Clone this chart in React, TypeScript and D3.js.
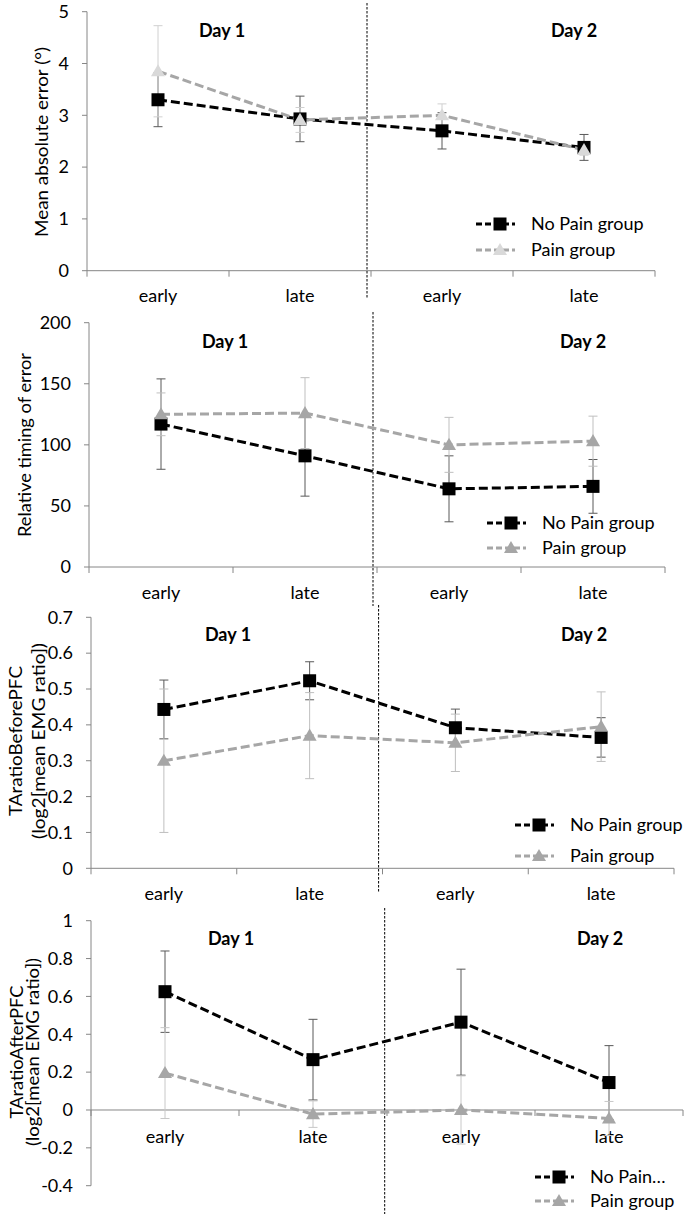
import React from "react";
import * as d3 from "d3";

// ---------- data ----------
const categories = ["early", "late", "early", "late"];
const dayLabels = ["Day 1", "Day 2"];
const seriesNames = ["No Pain group", "Pain group"];
const seriesNamesShort = ["No Pain…", "Pain group"];

// Panel 1: Mean absolute error (°)
const maeNoPain = [3.3, 2.93, 2.7, 2.38];
const maeNoPainErr = [0.52, 0.44, 0.35, 0.25];
const maePain = [3.85, 2.91, 3.0, 2.33];
const maePainErr = [0.88, 0.24, 0.22, 0.1];
const maeTicks = [0, 1, 2, 3, 4, 5];

// Panel 2: Relative timing of error
const timingNoPain = [117, 91, 64, 66];
const timingNoPainErr = [37, 33, 27, 22];
const timingPain = [125, 126, 100, 103];
const timingPainErr = [17.5, 29, 22.5, 20.5];
const timingTicks = [0, 50, 100, 150, 200];

// Panel 3: TAratioBeforePFC
const beforeNoPain = [0.443, 0.523, 0.392, 0.365];
const beforeNoPainErr = [0.082, 0.053, 0.052, 0.055];
const beforePain = [0.3, 0.37, 0.35, 0.395];
const beforePainErr = [0.2, 0.12, 0.08, 0.097];
const beforeTicks = [0, 0.1, 0.2, 0.3, 0.4, 0.5, 0.6, 0.7];

// Panel 4: TAratioAfterPFC
const afterNoPain = [0.625, 0.266, 0.464, 0.145];
const afterNoPainErr = [0.215, 0.213, 0.28, 0.195];
const afterPain = [0.195, -0.022, 0.0, -0.045];
const afterPainErr = [0.24, 0.07, 0.18, 0.09];
const afterTicks = [-0.4, -0.2, 0, 0.2, 0.4, 0.6, 0.8, 1];

// ---------- layout ----------
const FONT = "Lato, 'Liberation Sans', Arial, sans-serif";
const AXIS = "#868686";

type Panel = {
  titles: string[];
  titleLens: number[];
  titleX: number[];
  titleY: number;
  noPain: number[];
  noPainErr: number[];
  pain: number[];
  painErr: number[];
  ticks: number[];
  domain: [number, number];
  fmt: (v: number) => string;
  x0: number;
  x1: number;
  yTop: number;
  yBot: number;
  catY: number;
  divX: number;
  divY: [number, number];
  dayY: number;
  dayX: [number, number];
  legX: number;
  legY: [number, number];
  legNames: string[];
  painMarker: string;
  painErrColor: string;
};

const panels: Panel[] = [
  {
    titles: ["Mean absolute error (°)"],
    titleLens: [190],
    titleX: [48],
    titleY: 142,
    noPain: maeNoPain,
    noPainErr: maeNoPainErr,
    pain: maePain,
    painErr: maePainErr,
    ticks: maeTicks,
    domain: [0, 5],
    fmt: (v) => d3.format("d")(v),
    x0: 87,
    x1: 655,
    yTop: 11.7,
    yBot: 270.7,
    catY: 296,
    divX: 367,
    divY: [3, 298],
    dayY: 31,
    dayX: [222, 574],
    legX: 476,
    legY: [224, 250],
    legNames: seriesNames,
    painMarker: "#D9D9D9",
    painErrColor: "#D0D0D0",
  },
  {
    titles: ["Relative timing of error"],
    titleLens: [184],
    titleX: [31],
    titleY: 445,
    noPain: timingNoPain,
    noPainErr: timingNoPainErr,
    pain: timingPain,
    painErr: timingPainErr,
    ticks: timingTicks,
    domain: [0, 200],
    fmt: (v) => d3.format("d")(v),
    x0: 89,
    x1: 665,
    yTop: 322.7,
    yBot: 567,
    catY: 593,
    divX: 373,
    divY: [312, 606],
    dayY: 342,
    dayX: [225, 583],
    legX: 487,
    legY: [523, 548],
    legNames: seriesNames,
    painMarker: "#A6A6A6",
    painErrColor: "#BFBFBF",
  },
  {
    titles: ["TAratioBeforePFC", "(log2[mean EMG ratio])"],
    titleLens: [150, 196],
    titleX: [22, 45],
    titleY: 741,
    noPain: beforeNoPain,
    noPainErr: beforeNoPainErr,
    pain: beforePain,
    painErr: beforePainErr,
    ticks: beforeTicks,
    domain: [0, 0.7],
    fmt: (v) => (v === 0 ? "0" : d3.format(".1f")(v)),
    x0: 91,
    x1: 674,
    yTop: 617.3,
    yBot: 868.3,
    catY: 894,
    divX: 378.6,
    divY: [605, 893],
    dayY: 635,
    dayX: [228, 584],
    legX: 515,
    legY: [825, 856],
    legNames: seriesNames,
    painMarker: "#A6A6A6",
    painErrColor: "#BFBFBF",
  },
  {
    titles: ["TAratioAfterPFC", "(log2[mean EMG ratio])"],
    titleLens: [133, 188],
    titleX: [23, 39],
    titleY: 1052,
    noPain: afterNoPain,
    noPainErr: afterNoPainErr,
    pain: afterPain,
    painErr: afterPainErr,
    ticks: afterTicks,
    domain: [-0.4, 1],
    fmt: (v) =>
      Math.abs(v) < 1e-9 ? "0" : v === 1 ? "1" : d3.format(".1f")(v).replace("−", "-"),
    x0: 91,
    x1: 683,
    yTop: 920.7,
    yBot: 1185.7,
    catY: 1137,
    divX: 384.7,
    divY: [908, 1214],
    dayY: 939,
    dayX: [231, 600],
    legX: 535,
    legY: [1177, 1201],
    legNames: seriesNamesShort,
    painMarker: "#A6A6A6",
    painErrColor: "#C8C8C8",
  },
];

const triPath = d3.symbol(d3.symbolTriangle, 85)() as string;

function Marker({ kind, x, y, fill }: { kind: "sq" | "tri"; x: number; y: number; fill: string }) {
  if (kind === "sq") return <rect x={x - 6.5} y={y - 6.5} width={13} height={13} fill={fill} />;
  return <path d={triPath} transform={`translate(${x},${y + 1})`} fill={fill} />;
}

function ChartPanel({ p }: { p: Panel }) {
  const idx = categories.map((_, i) => i);
  const xb = d3.scaleBand<number>().domain(idx).range([p.x0, p.x1]);
  const xc = (i: number) => (xb(i) as number) + xb.bandwidth() / 2;
  const y = d3.scaleLinear().domain(p.domain).range([p.yBot, p.yTop]);
  const y0 = y(0);
  const line = d3
    .line<number>()
    .x((_, i) => xc(i))
    .y((d) => y(d));
  const boundaries = [...idx.map((i) => xb(i) as number), p.x1];

  const errBars = (vals: number[], errs: number[], color: string) =>
    vals.map((v, i) => {
      const x = xc(i);
      const hi = y(v + errs[i]);
      const lo = y(v - errs[i]);
      return (
        <g key={i} stroke={color} strokeWidth={1}>
          <line x1={x} x2={x} y1={hi} y2={lo} />
          <line x1={x - 4.5} x2={x + 4.5} y1={hi} y2={hi} />
          <line x1={x - 4.5} x2={x + 4.5} y1={lo} y2={lo} />
        </g>
      );
    });

  return (
    <g>
      {/* y axis */}
      <line x1={p.x0} x2={p.x0} y1={p.yTop} y2={p.yBot} stroke={AXIS} strokeWidth={1} />
      {p.ticks.map((t) => (
        <g key={t}>
          <line x1={p.x0 - 5} x2={p.x0} y1={y(t)} y2={y(t)} stroke={AXIS} />
          <text
            x={p.x0 - 18}
            y={y(t)}
            dy="0.35em"
            textAnchor="end"
            fontFamily={FONT}
            fontSize={18}
            fill="#000"
          >
            {p.fmt(t)}
          </text>
        </g>
      ))}
      {/* x axis at value 0 */}
      <line x1={p.x0} x2={p.x1} y1={y0} y2={y0} stroke={AXIS} strokeWidth={1} />
      {boundaries.map((bx, i) => (
        <line key={i} x1={bx} x2={bx} y1={y0} y2={y0 + 6} stroke={AXIS} />
      ))}
      {categories.map((c, i) => (
        <text
          key={i}
          x={xc(i)}
          y={p.catY}
          dy="0.35em"
          textAnchor="middle"
          fontFamily={FONT}
          fontSize={18}
        >
          {c}
        </text>
      ))}
      {/* axis title */}
      {p.titles.map((t, i) => (
        <text
          key={i}
          transform={`translate(${p.titleX[i]},${p.titleY}) rotate(-90)`}
          textAnchor="middle"
          fontFamily={FONT}
          fontSize={18}
          textLength={p.titleLens[i]}
          lengthAdjust="spacingAndGlyphs"
        >
          {t}
        </text>
      ))}
      {/* day divider */}
      <line
        x1={p.divX}
        x2={p.divX}
        y1={p.divY[0]}
        y2={p.divY[1]}
        stroke="#000"
        strokeWidth={1}
        strokeDasharray="2.5,1.5"
      />
      {dayLabels.map((d, i) => (
        <text
          key={d}
          x={p.dayX[i]}
          y={p.dayY}
          dy="0.35em"
          textAnchor="middle"
          fontFamily={FONT}
          fontWeight="bold"
          fontSize={18}
        >
          {d}
        </text>
      ))}
      {/* error bars */}
      {errBars(p.noPain, p.noPainErr, "#595959")}
      {errBars(p.pain, p.painErr, p.painErrColor)}
      {/* lines */}
      <path d={line(p.noPain) as string} fill="none" stroke="#000" strokeWidth={3} strokeDasharray="9,4" />
      <path d={line(p.pain) as string} fill="none" stroke="#A6A6A6" strokeWidth={3} strokeDasharray="9,4" />
      {/* markers */}
      {p.noPain.map((v, i) => (
        <Marker key={"n" + i} kind="sq" x={xc(i)} y={y(v)} fill="#000" />
      ))}
      {p.pain.map((v, i) => (
        <Marker key={"p" + i} kind="tri" x={xc(i)} y={y(v)} fill={p.painMarker} />
      ))}
      {/* legend */}
      {[0, 1].map((k) => (
        <g key={k}>
          <line
            x1={p.legX}
            x2={p.legX + 39}
            y1={p.legY[k]}
            y2={p.legY[k]}
            stroke={k === 0 ? "#000" : "#A6A6A6"}
            strokeWidth={3}
            strokeDasharray="6,3"
          />
          <Marker
            kind={k === 0 ? "sq" : "tri"}
            x={p.legX + 24}
            y={p.legY[k]}
            fill={k === 0 ? "#000" : p.painMarker}
          />
          <text
            x={p.legX + 55}
            y={p.legY[k]}
            dy="0.35em"
            fontFamily={FONT}
            fontSize={18}
          >
            {p.legNames[k]}
          </text>
        </g>
      ))}
    </g>
  );
}

export default function App() {
  return (
    <svg
      width={685}
      height={1214}
      style={{ position: "absolute", left: 0, top: 0, background: "#fff" }}
    >
      <rect width={685} height={1214} fill="#fff" />
      {panels.map((p, i) => (
        <ChartPanel key={i} p={p} />
      ))}
    </svg>
  );
}
